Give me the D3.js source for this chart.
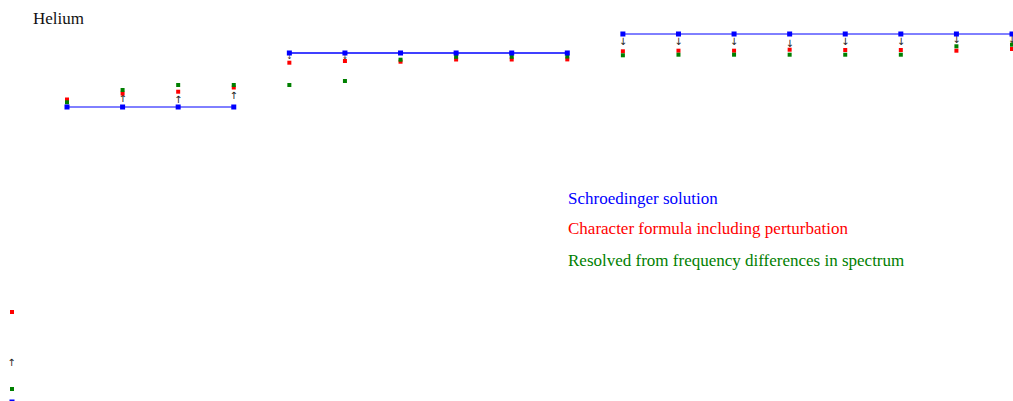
<!DOCTYPE html>
<html>
<head>
<meta charset="utf-8">
<script src="https://cdn.jsdelivr.net/npm/d3@7"></script>
<style>
  html, body { margin: 0; padding: 0; background: #fff; overflow: hidden; }
  svg { display: block; }
  text { font-family: "Liberation Serif", "Times New Roman", serif; }
  text.arrow { font-family: "DejaVu Sans", sans-serif; }
</style>
</head>
<body>
<svg id="chart" width="1013" height="401"></svg>
<script>
// ---- data (energy-level heights, arbitrary units) ----
const groups = [
  { name: "g1", start: 0, count: 4, width: 1 },
  { name: "g2", start: 4, count: 6, width: 1.5 },
  { name: "g3", start: 10, count: 8, width: 1 }
];
const schroedinger = [13, 13, 13, 13,
  67, 67, 67, 67, 67, 67,
  86, 86, 86, 86, 86, 86, 86, 86];
const characterFormula = [20.5, 26.5, 28.3, 32.5,
  57.3, 59, 58.3, 60.5, 60.5, 60.6,
  68.7, 69.3, 69.3, 70.3, 70, 70, 69.3, 71];
const resolved = [17.7, 30, 35, 35,
  35, 39, 60.3, 63.2, 63.2, 63.5,
  64.7, 65.3, 65.3, 65.3, 65.3, 65.3, 73.7, 75.3];
const arrowIndex = [1, 2, 3, 4, 5, 10, 11, 12, 13, 14, 15, 16, 17];
const arrowDir   = ["up", "up", "up", "down", "down", "down", "down", "down", "down", "down", "down", "down", "down"];
const arrowLevel = [21.3, 20.3, 24.3, 63, 63, 78.7, 79, 79, 76.7, 78.7, 78.7, 80.3, 80.3];
const title = "Helium";
const legendLabels = ["Schroedinger solution", "Character formula including perturbation", "Resolved from frequency differences in spectrum"];

// ---- scales ----
const svg = d3.select("#chart");
const x = d3.scaleLinear().domain([0, 17]).range([67, 1012]);
const y = d3.scaleLinear().domain([0, 100]).range([120, 20]);
const idx = d3.range(schroedinger.length);

// title
svg.append("text").attr("x", 33).attr("y", 24)
  .attr("font-size", 17).attr("fill", "#111").text(title);

// Schroedinger lines per group
const line = d3.line().x(i => x(i)).y(i => y(schroedinger[i]));
groups.forEach(g => {
  svg.append("path")
    .datum(d3.range(g.start, g.start + g.count))
    .attr("d", line)
    .attr("fill", "none")
    .attr("stroke", "#0000ff")
    .attr("stroke-width", g.width);
});

// arrows (text glyphs)
svg.selectAll("text.arrow").data(arrowIndex).join("text")
  .attr("class", "arrow")
  .attr("x", i => x(i))
  .attr("y", (d, k) => y(arrowLevel[k]))
  .attr("text-anchor", "middle")
  .attr("dominant-baseline", "central")
  .attr("font-size", d => d >= 4 && d <= 9 ? 7 : 10)
  .attr("fill", "#222")
  .text((d, k) => arrowDir[k] === "up" ? "\u2191" : "\u2193");

// markers
const s = 4;
svg.selectAll("rect.cf").data(idx).join("rect")
  .attr("class", "cf")
  .attr("x", i => x(i) - s / 2).attr("y", i => y(characterFormula[i]) - s / 2)
  .attr("width", s).attr("height", s).attr("fill", "#ff0000");
svg.selectAll("rect.rs").data(idx).join("rect")
  .attr("class", "rs")
  .attr("x", i => x(i) - s / 2).attr("y", i => y(resolved[i]) - s / 2)
  .attr("width", s).attr("height", s).attr("fill", "#008000");
const bs = 5;
svg.selectAll("rect.sc").data(idx).join("rect")
  .attr("class", "sc")
  .attr("x", i => x(i) - bs / 2).attr("y", i => y(schroedinger[i]) - bs / 2)
  .attr("width", bs).attr("height", bs).attr("fill", "#0000ff");

// legend labels
const legendColors = ["#0000ff", "#ff0000", "#008000"];
const legendY = [204, 234, 266];
svg.selectAll("text.leg").data(legendLabels).join("text")
  .attr("class", "leg")
  .attr("x", 568).attr("y", (d, i) => legendY[i])
  .attr("font-size", 17)
  .attr("fill", (d, i) => legendColors[i])
  .text(d => d);

// stray legend symbols at the bottom-left
const sym = svg.append("g");
sym.append("rect").attr("x", 10).attr("y", 310).attr("width", 4).attr("height", 4).attr("fill", "#ff0000");
sym.append("text").attr("class", "arrow").attr("x", 11.5).attr("y", 362).attr("text-anchor", "middle")
  .attr("dominant-baseline", "central")
  .attr("font-size", 10).attr("fill", "#222").text("\u2191");
sym.append("rect").attr("x", 10).attr("y", 387).attr("width", 4).attr("height", 4).attr("fill", "#008000");
sym.append("rect").attr("x", 9.5).attr("y", 399.5).attr("width", 5).attr("height", 5).attr("fill", "#0000ff");
</script>
</body>
</html>
